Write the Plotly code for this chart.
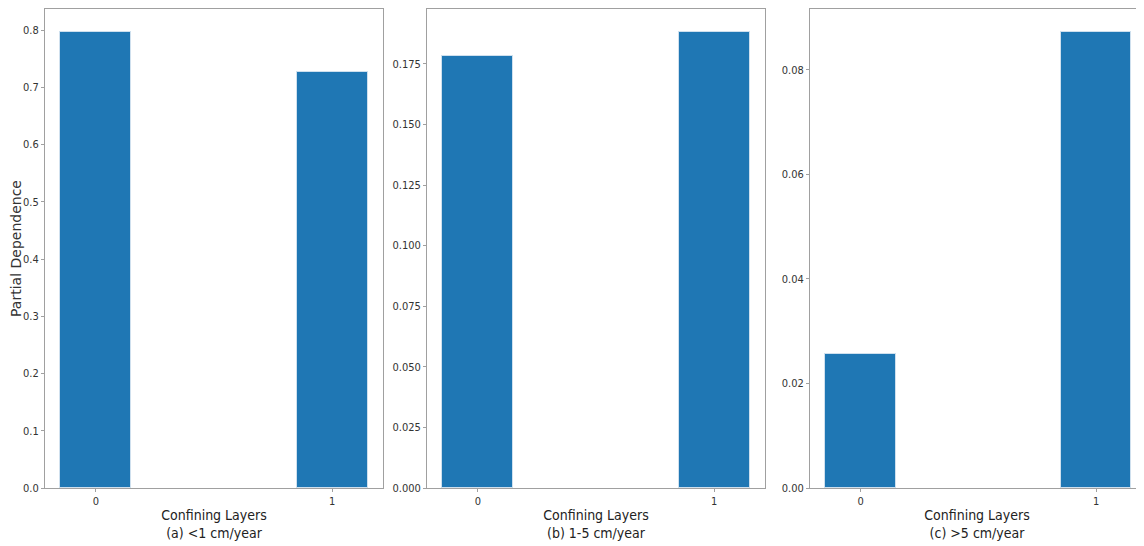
import plotly.graph_objects as go

categories = [0, 1]
values_a = [0.797, 0.7265]
values_b = [0.1783, 0.1882]
values_c = [0.02565, 0.08727]
subtitles = ["(a) <1 cm/year", "(b) 1-5 cm/year", "(c) >5 cm/year"]
xlabel = "Confining Layers"
ylabel = "Partial Dependence"
y_ticks = [
    [0.0, 0.1, 0.2, 0.3, 0.4, 0.5, 0.6, 0.7, 0.8],
    [0.0, 0.025, 0.05, 0.075, 0.1, 0.125, 0.15, 0.175],
    [0.0, 0.02, 0.04, 0.06, 0.08],
]
y_ticktext = [
    ["0.0", "0.1", "0.2", "0.3", "0.4", "0.5", "0.6", "0.7", "0.8"],
    ["0.000", "0.025", "0.050", "0.075", "0.100", "0.125", "0.150", "0.175"],
    ["0.00", "0.02", "0.04", "0.06", "0.08"],
]

series = [values_a, values_b, values_c]
# page body has an 8px margin, so the figure is laid out in shifted coordinates
OFF = 8
W, H = 1144 - OFF, 546 - OFF
ml, mr, mt, mb = 45 - OFF, 0, 9 - OFF, 546 - 488
pw = W - ml - mr
panels_px = [(45, 383), (427, 765), (810, 1144)]
domains = [[(a - OFF - ml) / pw, min(1.0, (b - OFF - ml) / pw)] for a, b in panels_px]
x_ranges = [[-0.215, 1.215], [-0.215, 1.215], [-0.215, (1144 - 860) / 236]]

fig = go.Figure()
spine = "#a0a0a0"
tickfont = dict(family="DejaVu Sans Condensed, DejaVu Sans", size=11, color="#333333")
for i, vals in enumerate(series):
    n = "" if i == 0 else str(i + 1)
    fig.add_trace(go.Bar(
        x=categories, y=vals, width=0.3,
        marker=dict(color="#1f77b4", line=dict(color="#cfe0ee", width=1)),
        xaxis="x" + n, yaxis="y" + n, showlegend=False,
    ))
    ymax = max(vals) * 1.05
    fig.layout["xaxis" + n] = dict(
        domain=domains[i], range=x_ranges[i], anchor="y" + n,
        tickvals=categories, ticktext=[str(c) for c in categories],
        ticks="outside", ticklen=3, tickcolor=spine, tickwidth=1,
        showline=True, linecolor=spine, linewidth=1, mirror=True,
        showgrid=False, zeroline=False, tickfont=tickfont,
        title=dict(text=xlabel + "<br>" + subtitles[i], standoff=2,
                   font=dict(family="DejaVu Sans Condensed, DejaVu Sans", size=14, color="#222222")),
    )
    fig.layout["yaxis" + n] = dict(
        domain=[0, 1], range=[0, ymax], anchor="x" + n,
        tickvals=y_ticks[i], ticktext=y_ticktext[i],
        ticks="outside", ticklen=3, tickcolor=spine, tickwidth=1,
        showline=True, linecolor=spine, linewidth=1, mirror=(i < 2),
        showgrid=False, zeroline=False, tickfont=tickfont,
    )

fig.layout.yaxis.title = dict(text=ylabel, standoff=1,
                              font=dict(family="DejaVu Sans", size=14, color="#333333"))

fig.update_layout(
    width=W, height=H, margin=dict(l=ml, r=mr, t=mt, b=mb),
    paper_bgcolor="white", plot_bgcolor="white", bargap=0,
)
fig.write_html("out.html")
